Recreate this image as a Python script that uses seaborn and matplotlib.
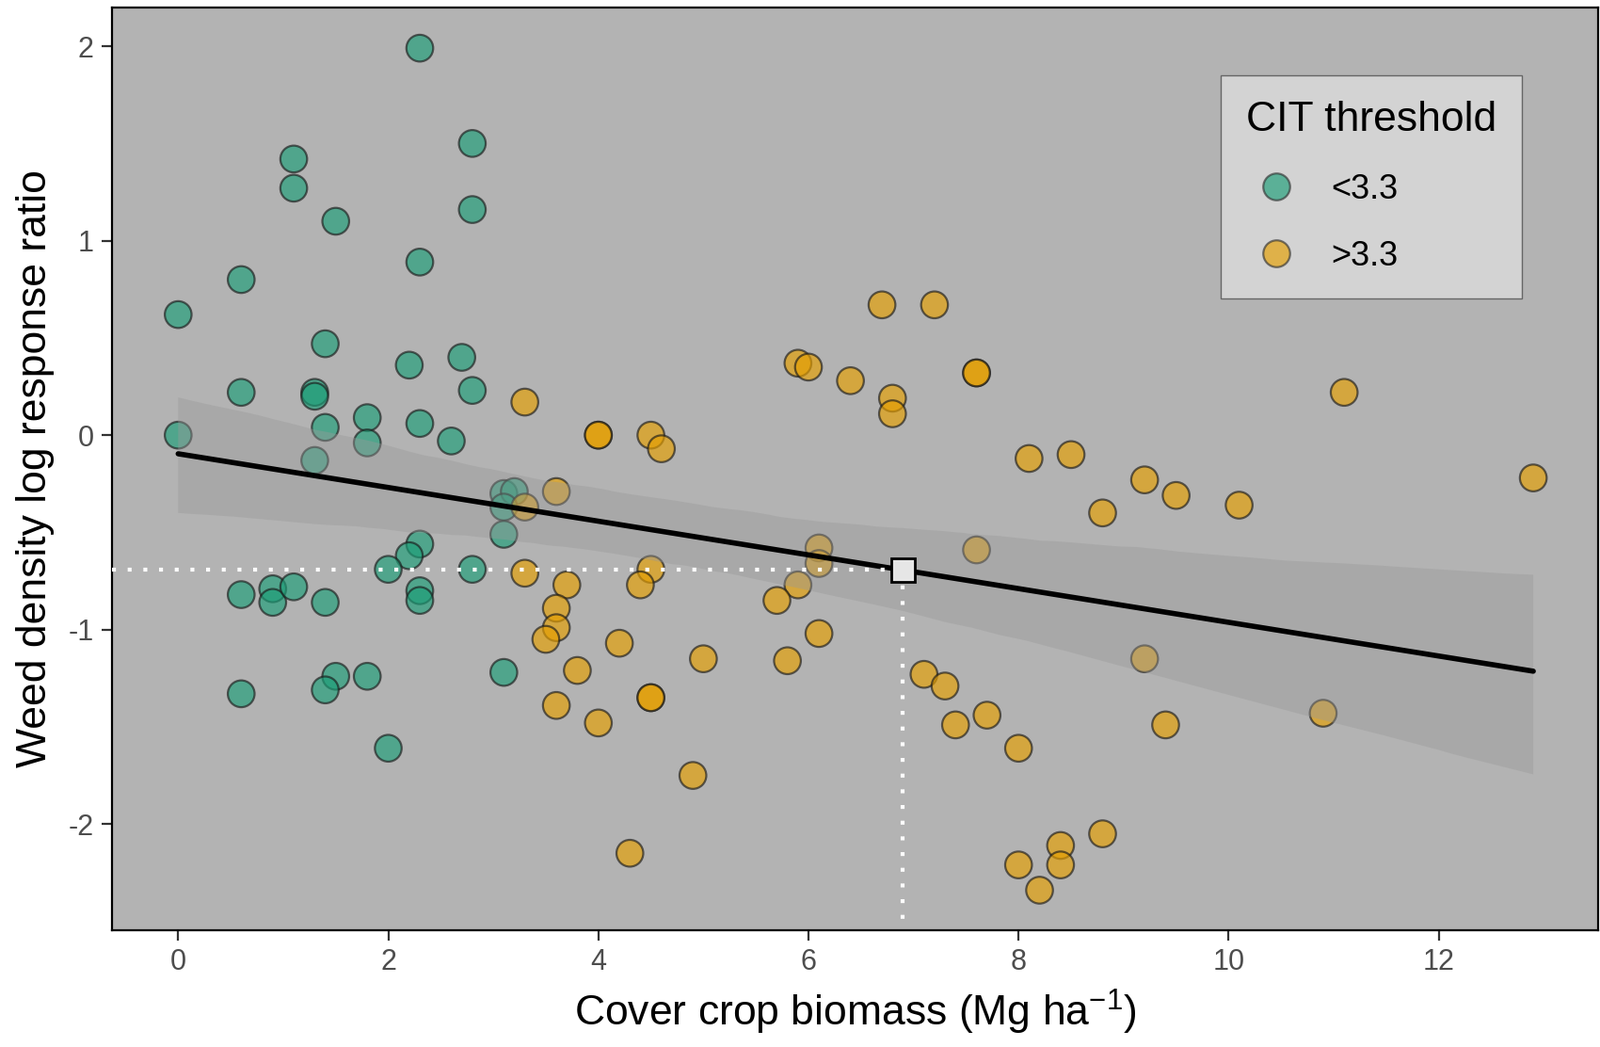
import numpy as np
import pandas as pd
import matplotlib
matplotlib.use("Agg")
import matplotlib.pyplot as plt
import seaborn as sns

# CIT < 3.3
x_low = [2.3, 2.8, 1.1, 1.1, 1.5, 2.8, 2.3, 0.6, 0.0, 1.4, 2.2, 2.7, 0.6, 1.3, 1.3,
         2.8, 1.8, 2.3, 1.4, 0.0, 1.8, 2.6, 1.3, 3.1, 3.2, 3.1, 3.1, 2.3, 2.2, 2.0,
         2.8, 2.3, 2.3, 0.6, 0.9, 0.9, 1.1, 1.4, 1.5, 1.4, 1.8, 0.6, 3.1, 2.0]
y_low = [1.99, 1.50, 1.42, 1.27, 1.10, 1.16, 0.89, 0.80, 0.62, 0.47, 0.36, 0.40, 0.22, 0.22, 0.20,
         0.23, 0.09, 0.06, 0.04, 0.00, -0.04, -0.03, -0.13, -0.30, -0.29, -0.37, -0.51, -0.56, -0.62, -0.69,
         -0.69, -0.80, -0.85, -0.82, -0.79, -0.86, -0.78, -0.86, -1.24, -1.31, -1.24, -1.33, -1.22, -1.61]

# CIT > 3.3
x_high = [6.7, 7.2, 7.6, 7.6, 5.9, 6.0, 6.4, 6.8, 6.8, 3.3, 4.0, 4.0, 4.5, 4.6, 11.1,
          8.1, 8.5, 9.2, 9.5, 10.1, 8.8, 12.9, 3.6, 3.3, 6.1, 6.1, 7.6, 3.3, 4.5, 4.4,
          3.7, 5.9, 5.7, 3.6, 3.6, 3.5, 4.2, 6.1, 5.0, 5.8, 3.8, 4.5, 4.5, 3.6, 4.0,
          4.9, 4.3, 7.1, 7.3, 7.7, 7.4, 8.0, 9.2, 9.4, 10.9, 8.8, 8.4, 8.4, 8.0, 8.2]
y_high = [0.67, 0.67, 0.32, 0.32, 0.37, 0.35, 0.28, 0.19, 0.11, 0.17, 0.00, 0.00, 0.00, -0.07, 0.22,
          -0.12, -0.10, -0.23, -0.31, -0.36, -0.40, -0.22, -0.29, -0.37, -0.58, -0.66, -0.59, -0.71, -0.69, -0.77,
          -0.77, -0.77, -0.85, -0.89, -0.99, -1.05, -1.07, -1.02, -1.15, -1.16, -1.21, -1.35, -1.35, -1.39, -1.48,
          -1.75, -2.15, -1.23, -1.29, -1.44, -1.49, -1.61, -1.15, -1.49, -1.43, -2.05, -2.11, -2.21, -2.21, -2.34]

groups = ["<3.3", ">3.3"]
colors = ["#1B9E77", "#E69F00"]

# biomass threshold on the fitted line
thr_x = 6.9
thr_y = -0.69

df = pd.DataFrame({
    "biomass": x_low + x_high,
    "lrr": y_low + y_high,
    "CIT": [groups[0]] * len(x_low) + [groups[1]] * len(x_high),
})

sns.set_theme(style="ticks")
plt.rcParams["font.family"] = ["Liberation Sans", "DejaVu Sans"]
plt.rcParams["mathtext.fontset"] = "custom"
plt.rcParams["mathtext.rm"] = "Liberation Sans"
plt.rcParams["mathtext.it"] = "Liberation Sans:italic"
plt.rcParams["axes.unicode_minus"] = False

fig = plt.figure(figsize=(17, 11.12), dpi=100)
ax = fig.add_axes([0.070, 0.1115, 0.929, 0.8815])
ax.set_facecolor("#b3b3b3")

sns.scatterplot(data=df, x="biomass", y="lrr", hue="CIT", hue_order=groups,
                palette=colors, s=420, alpha=0.65, edgecolor="#1a1a1a",
                linewidth=1.6, ax=ax, zorder=2)

n_before = len(ax.collections)
sns.regplot(data=df, x="biomass", y="lrr", scatter=False, ci=95, ax=ax,
            color="black", line_kws={"linewidth": 4, "zorder": 4})
for coll in ax.collections[n_before:]:
    coll.set_facecolor("#999999")
    coll.set_edgecolor("none")
    coll.set_linewidth(0)
    coll.set_alpha(0.4)
    coll.set_zorder(3)

ax.set_xlim(-0.63, 13.52)
ax.set_ylim(-2.546, 2.20)

dots = (0, (1, 3.0))
ax.plot([-0.63, thr_x], [thr_y, thr_y], color="white", lw=3.0, linestyle=dots,
        dash_capstyle="butt", zorder=5)
ax.plot([thr_x, thr_x], [thr_y, -2.546], color="white", lw=3.0, linestyle=dots,
        dash_capstyle="butt", zorder=5)
ax.plot([thr_x], [thr_y], marker="s", markersize=18, markerfacecolor="#e6e6e6",
        markeredgecolor="black", markeredgewidth=2, zorder=6)

ax.set_xticks([0, 2, 4, 6, 8, 10, 12])
ax.set_yticks([-2, -1, 0, 1, 2])
ax.tick_params(axis="both", labelsize=22, colors="#333333", labelcolor="#4d4d4d",
               length=8, width=1.6, pad=6)
for sp in ax.spines.values():
    sp.set_visible(True)
    sp.set_color("black")
    sp.set_linewidth(1.6)

ax.set_xlabel("Cover crop biomass (Mg ha$^{-1}$)", fontsize=32, color="black", labelpad=8)
ax.set_ylabel("Weed density log response ratio", fontsize=32, color="black", labelpad=10)

leg = ax.legend(title="CIT threshold", loc="upper right", bbox_to_anchor=(0.9485, 0.9265),
                borderaxespad=0, fontsize=26, title_fontsize=32, frameon=True, fancybox=False,
                facecolor="#d3d3d3", edgecolor="#666666", framealpha=1,
                borderpad=0.75, labelspacing=1.0, handletextpad=0.7,
                handlelength=1.8, markerscale=1.0)
leg._legend_box.align = "left"
leg.get_frame().set_linewidth(1.0)
leg.get_title().set_color("black")
for t in leg.get_texts():
    t.set_color("black")
for h in leg.legend_handles:
    h.set_markeredgecolor("#333333")
    h.set_alpha(0.65)

fig.savefig("out.png", dpi=100)
